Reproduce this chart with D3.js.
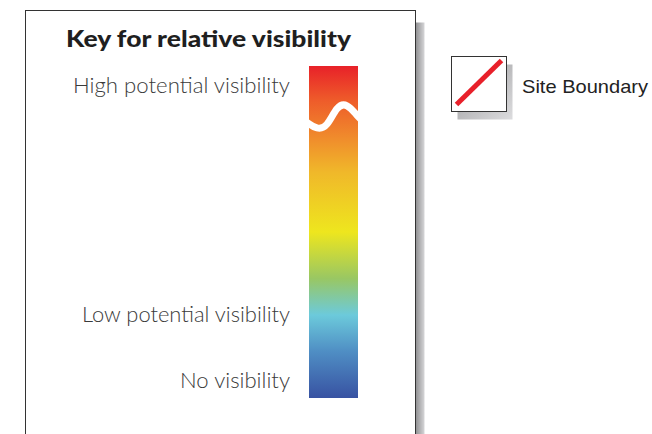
<!DOCTYPE html>
<html>
<head>
<meta charset="utf-8">
<script src="https://cdn.jsdelivr.net/npm/d3@7"></script>
<style>
  html, body { margin: 0; padding: 0; background: #fff; }
  svg { display: block; }
</style>
</head>
<body>
<div id="chart"></div>
<script>
// colour ramp of the visibility key, 0 = no visibility, 1 = high
const rampOffsets = [0, 0.14, 0.25, 0.36, 0.5, 0.68, 0.78, 0.9, 1];
const rampColors = ["#3852a2", "#4f8ec4", "#6ccadb", "#99c763", "#eee61e", "#f0b82a", "#f08d2c", "#ee5a2a", "#e82129"];

// key labels and the level they sit at
const keyLabels = ["High potential visibility", "Low potential visibility", "No visibility"];
const keyLevels = [0.92, 0.23, 0.03];
const keyTitle = "Key for relative visibility";

// break in the ramp (wave), as level
const breakLevel = 0.845;

const legendItems = ["Site Boundary"];

const width = 652, height = 434;

const svg = d3.select("#chart").append("svg")
    .attr("width", width)
    .attr("height", height);

const defs = svg.append("defs");

// panel frame
const panel = { x: 25.5, y: 10.5, w: 390, h: 440 };

const shadowGrad = defs.append("linearGradient")
    .attr("id", "panelShadow")
    .attr("x1", "0%").attr("x2", "100%");
shadowGrad.append("stop").attr("offset", "0%").style("stop-color", "#8e8e90");
shadowGrad.append("stop").attr("offset", "100%").style("stop-color", "#d6d6d8");

svg.append("rect")
    .attr("x", panel.x + panel.w)
    .attr("y", panel.y + 12)
    .attr("width", 9)
    .attr("height", panel.h)
    .style("fill", "url(#panelShadow)");

svg.append("rect")
    .attr("x", panel.x).attr("y", panel.y)
    .attr("width", panel.w).attr("height", panel.h)
    .attr("fill", "#fff")
    .attr("stroke", "#333")
    .attr("stroke-width", 1);

svg.append("text")
    .attr("x", 66)
    .attr("y", 46.5)
    .attr("textLength", 285)
    .attr("lengthAdjust", "spacingAndGlyphs")
    .style("font-family", "Lato, 'DejaVu Sans', sans-serif")
    .style("font-weight", "900")
    .style("font-size", "22px")
    .style("fill", "#1f1f1f")
    .text(keyTitle);

// ramp
const bar = { x: 309, w: 49 };
const y = d3.scaleLinear().domain([0, 1]).range([398, 66]);

const rampGrad = defs.append("linearGradient")
    .attr("id", "ramp")
    .attr("gradientUnits", "userSpaceOnUse")
    .attr("x1", 0).attr("x2", 0)
    .attr("y1", y(0)).attr("y2", y(1));

rampOffsets.forEach((o, i) => {
    rampGrad.append("stop")
        .attr("offset", o * 100 + "%")
        .style("stop-color", rampColors[i]);
});

svg.append("rect")
    .attr("x", bar.x)
    .attr("y", y(1))
    .attr("width", bar.w)
    .attr("height", y(0) - y(1))
    .style("fill", "url(#ramp)");

// white wave across the ramp
const wy = y(breakLevel);
const wave = d3.line().curve(d3.curveBasis);
svg.append("path")
    .attr("d", wave([
        [bar.x - 2, wy + 5],
        [bar.x + 8, wy + 12],
        [bar.x + 18, wy + 10],
        [bar.x + 28, wy - 12],
        [bar.x + 38, wy - 14],
        [bar.x + 48, wy - 2],
        [bar.x + 52, wy + 2]
    ]))
    .attr("fill", "none")
    .attr("stroke", "#fff")
    .attr("stroke-width", 7);

// labels
const labelWidths = [217, 208, 110];
keyLabels.forEach((t, i) => {
    svg.append("text")
        .attr("x", 290)
        .attr("y", y(keyLevels[i]))
        .attr("text-anchor", "end")
        .attr("textLength", labelWidths[i])
        .attr("lengthAdjust", "spacingAndGlyphs")
        .style("font-family", "Lato, 'DejaVu Sans', sans-serif")
        .style("font-weight", "300")
        .style("font-size", "21px")
        .style("fill", "#3a3a3a")
        .text(t);
});

// site boundary legend
const sb = { x: 451.5, y: 56.5, s: 55 };
const sbShadow = defs.append("linearGradient")
    .attr("id", "sbShadow")
    .attr("x1", "0%").attr("y1", "0%").attr("x2", "100%").attr("y2", "100%");
sbShadow.append("stop").attr("offset", "0%").style("stop-color", "#9a9a9c");
sbShadow.append("stop").attr("offset", "100%").style("stop-color", "#dcdcde");

svg.append("rect")
    .attr("x", sb.x + 6).attr("y", sb.y + 8)
    .attr("width", sb.s).attr("height", sb.s)
    .style("fill", "url(#sbShadow)");

svg.append("rect")
    .attr("x", sb.x).attr("y", sb.y)
    .attr("width", sb.s).attr("height", sb.s)
    .attr("fill", "#fff")
    .attr("stroke", "#333")
    .attr("stroke-width", 1);

svg.append("line")
    .attr("x1", sb.x + 5).attr("y1", sb.y + 48)
    .attr("x2", sb.x + 50).attr("y2", sb.y + 4)
    .attr("stroke", "#e8202a")
    .attr("stroke-width", 5);

svg.append("text")
    .attr("x", 522)
    .attr("y", 93)
    .attr("textLength", 126)
    .attr("lengthAdjust", "spacingAndGlyphs")
    .style("font-family", "'Liberation Sans', Arial, sans-serif")
    .style("font-size", "19px")
    .style("fill", "#222")
    .text(legendItems[0]);
</script>
</body>
</html>
